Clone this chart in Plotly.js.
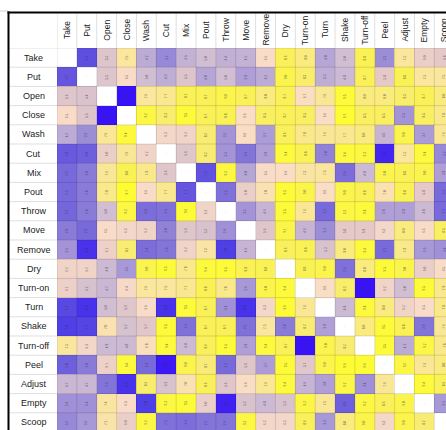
<!DOCTYPE html>
<html>
<head>
<meta charset="utf-8">
<script src="https://cdn.plot.ly/plotly-3.0.1.min.js"></script>
<style>html,body{margin:0;padding:0;background:#fff;overflow:hidden;}</style>
</head>
<body>
<div id="chart" style="width:446px;height:430px;"></div>
<script>
// Activity labels (rows and columns)
const actions = ["Take","Put","Open","Close","Wash","Cut","Mix","Pout","Throw","Move","Remove","Dry","Turn-on","Turn","Shake","Turn-off","Peel","Adjust","Empty","Scoop"];

// Cell values (0 = blue / closest ... 10 = yellow / farthest); null on diagonal
const rowTake    = [null,1.5,5.5,7.5,4.2,3.2,4.5,5.0,4.4,4.5,6.5,8.6,8.0,4.0,5.0,8.8,3.3,7.5,6.0,5.8];
const rowPut     = [1.7,null,5.5,6.5,5.0,4.3,5.5,4.0,5.0,3.8,4.2,9.0,8.3,4.3,4.8,8.7,5.8,8.8,7.5,7.5];
const rowOpen    = [5.6,5.4,null,0.3,7.5,7.7,8.7,8.7,9.0,8.7,8.0,8.7,6.7,7.6,9.5,8.0,8.0,8.3,8.7,8.0];
const rowClose   = [6.5,5.5,0.3,null,9.2,8.3,9.5,8.7,8.8,6.6,8.5,8.7,8.5,6.6,9.7,8.5,8.5,3.5,8.5,7.8];
const rowWash    = [4.2,3.3,7.6,9.4,null,6.3,6.2,8.2,3.5,6.6,3.7,8.6,7.8,7.6,7.7,8.0,4.6,9.0,3.7,7.6];
const rowCut     = [1.8,2.0,6.0,7.6,6.2,null,5.6,8.2,3.5,2.6,3.8,9.4,8.8,3.0,9.4,9.3,0.6,7.5,9.4,3.2];
const rowMix     = [2.3,2.8,7.6,8.8,7.8,5.6,null,1.6,9.3,4.0,6.5,6.6,7.3,7.5,2.4,4.8,9.0,8.8,9.0,3.8];
const rowPout    = [2.3,2.8,7.8,9.7,6.5,7.7,1.7,null,2.5,6.0,7.0,9.5,9.0,6.6,9.0,8.8,7.0,8.8,5.8,2.3];
const rowThrow   = [2.2,2.8,5.0,9.2,2.4,2.5,9.6,6.2,null,3.5,4.6,9.5,7.6,2.3,9.2,9.4,3.8,3.8,4.8,2.3];
const rowMove    = [2.8,2.3,6.5,6.3,6.2,3.0,5.6,5.3,3.4,null,5.6,9.1,4.6,3.3,5.8,5.8,6.3,8.0,6.5,8.5];
const rowRemove  = [3.5,0.8,6.1,8.2,2.4,2.6,6.2,7.3,1.0,4.6,null,8.6,8.8,5.3,8.0,9.4,2.3,7.8,3.6,3.4];
const rowDry     = [6.2,6.2,4.8,3.6,9.0,9.5,7.8,9.4,9.5,8.8,8.8,null,8.8,9.0,2.5,8.0,9.5,9.0,6.0,6.5];
const rowTurnOn  = [6.1,5.2,4.7,6.4,7.5,7.5,7.7,8.8,7.8,3.6,9.0,9.4,null,6.6,8.3,0.3,6.2,5.0,9.5,7.8];
const rowTurn    = [1.3,0.8,5.0,5.6,6.5,0.8,9.5,8.7,3.4,0.8,6.3,9.6,7.6,null,4.8,9.4,8.0,6.2,6.5,7.8];
const rowShake   = [1.0,1.2,7.0,5.2,5.7,9.5,2.5,8.7,8.7,2.5,7.5,2.8,8.2,3.8,null,8.0,9.5,8.8,2.6,7.6];
const rowTurnOff = [7.5,6.3,4.8,4.8,6.8,9.4,4.8,8.6,9.5,3.8,9.4,8.7,0.3,9.0,8.2,null,9.5,4.2,9.2,7.8];
const rowPeel    = [2.0,2.8,6.1,9.4,2.3,0.4,9.0,8.1,2.3,5.6,3.7,9.5,5.7,9.0,9.6,9.6,null,9.2,7.6,8.0];
const rowAdjust  = [4.7,4.7,2.6,0.8,8.3,5.3,7.0,8.6,5.6,6.6,7.6,9.4,4.6,3.8,9.2,3.4,7.6,null,9.4,8.6];
const rowEmpty   = [3.4,3.4,7.4,6.5,1.0,9.3,9.5,6.0,0.5,5.3,4.8,5.3,9.2,7.6,2.0,9.2,8.6,9.0,null,3.6];
const rowScoop   = [3.2,3.6,7.2,6.0,9.2,2.5,2.4,2.6,2.6,9.2,6.3,6.3,8.6,3.6,8.0,9.0,6.3,9.0,8.2,null];

const z = [rowTake,rowPut,rowOpen,rowClose,rowWash,rowCut,rowMix,rowPout,rowThrow,rowMove,
           rowRemove,rowDry,rowTurnOn,rowTurn,rowShake,rowTurnOff,rowPeel,rowAdjust,rowEmpty,rowScoop];

// geometry (pixels)
const W = 446, H = 430, L = 57, T = 48;
const cw = 19.86, ch = 19.2;
const pw = W - L, ph = H - T;
const px = p => (p - L) / pw;          // pixel x -> paper x
const py = q => (H - q) / ph;          // pixel y -> paper y

const colorscale = [
  [0.00,'#3000ff'],
  [0.10,'#4f3fe6'],
  [0.20,'#6e5fdc'],
  [0.30,'#9182d8'],
  [0.40,'#b6a6d6'],
  [0.50,'#d2bed2'],
  [0.575,'#e2c8c8'],
  [0.65,'#f9dcc8'],
  [0.75,'#fae69c'],
  [0.85,'#f9ef60'],
  [1.00,'#ffff26']
];

const trace = {
  type: 'heatmap',
  x: actions, y: actions, z: z,
  zmin: 0, zmax: 10,
  colorscale: colorscale,
  showscale: false,
  hoverongaps: false
};

const fam = 'Liberation Sans, Arial, sans-serif';
const annotations = [];
actions.forEach((a, i) => {
  annotations.push({x: px(33.5), xref: 'paper', y: a, yref: 'y', text: a, showarrow: false,
    xanchor: 'center', yanchor: 'middle', font: {size: 9, color: '#222', family: fam}});
  annotations.push({x: a, xref: 'x', y: py(30), yref: 'paper', text: a, showarrow: false, textangle: -90,
    xanchor: 'center', yanchor: 'middle', font: {size: 8.5, color: '#222', family: fam}});
  // small value labels inside each cell (rotated, tiny)
  z[i].forEach((v, j) => {
    const isDiag = v === null;
    annotations.push({x: actions[j], xref: 'x', y: a, yref: 'y', showarrow: false,
      text: isDiag ? '·' : v.toFixed(1),
      textangle: isDiag ? 0 : -90,
      xanchor: 'center', yanchor: 'middle',
      font: {size: isDiag ? 4 : 3.2, color: 'rgba(50,50,60,0.75)', family: fam}});
  });
});

const shapes = [];
const gridCol = 'rgba(0,0,0,0.13)';
for (let k = 0; k <= actions.length; k++) {
  shapes.push({type: 'line', xref: 'x', yref: 'paper', x0: k - 0.5, x1: k - 0.5, y0: 0, y1: py(13),
    line: {color: gridCol, width: 1}});
  shapes.push({type: 'line', xref: 'paper', yref: 'y', x0: px(9), x1: 1, y0: k - 0.5, y1: k - 0.5,
    line: {color: gridCol, width: 1}});
}
// outer frame
shapes.push({type: 'line', xref: 'paper', yref: 'paper', x0: px(0), x1: px(8), y0: py(11), y1: py(11), line: {color: '#d0d0d0', width: 1}});
shapes.push({type: 'line', xref: 'paper', yref: 'paper', x0: px(8.5), x1: px(8.5), y0: 0, y1: py(11.5), line: {color: '#000', width: 2}});
shapes.push({type: 'line', xref: 'paper', yref: 'paper', x0: px(7.5), x1: 1, y0: py(12.5), y1: py(12.5), line: {color: '#000', width: 2}});

const layout = {
  width: W, height: H,
  margin: {l: L, r: 0, t: T, b: 0, pad: 0},
  paper_bgcolor: '#fff', plot_bgcolor: '#fff',
  xaxis: {range: [-0.5, -0.5 + pw / cw], showticklabels: false, showgrid: false, zeroline: false, ticks: '', fixedrange: true},
  yaxis: {range: [-0.5 + ph / ch, -0.5], showticklabels: false, showgrid: false, zeroline: false, ticks: '', fixedrange: true},
  annotations: annotations,
  shapes: shapes,
  showlegend: false
};

Plotly.newPlot('chart', [trace], layout, {displayModeBar: false, staticPlot: true});
</script>
</body>
</html>
